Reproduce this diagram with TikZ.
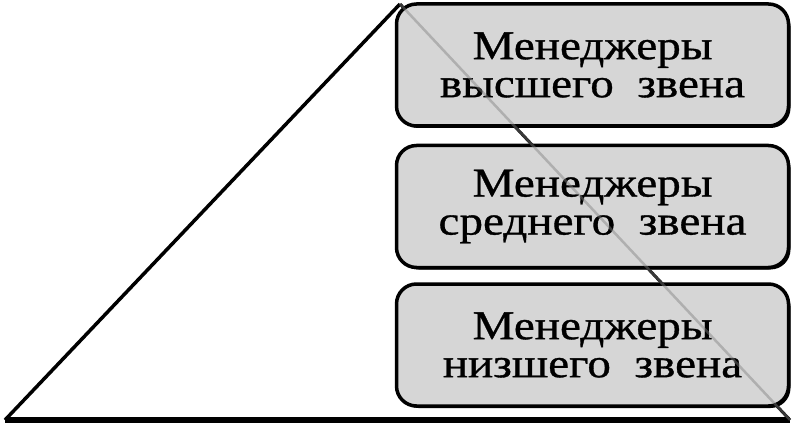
\documentclass[tikz,border=0pt]{standalone}
\usepackage{fontspec}
\setmainfont{Liberation Serif}[FakeStretch=1.15,FakeBold=0.8]
\begin{document}
\begin{tikzpicture}[x=1pt,y=-1pt,
  level/.style={draw=black,line width=3.5pt,rounded corners=20pt,fill=boxgray,
    minimum width=392pt,minimum height=122pt,align=center,inner sep=0pt,
    font=\fontsize{41}{38}\selectfont},
  shadowbox/.style={fill=black,rounded corners=20pt,minimum width=392pt,minimum height=122pt,inner sep=0pt}]
\definecolor{boxgray}{RGB}{214,214,214}
\useasboundingbox (0,0) rectangle (799,427);
\coordinate (A) at (5,420);
\coordinate (B) at (400,4);
\coordinate (C) at (790,420);
\draw[line width=3.5pt] (A) -- (B);
\draw[line width=3pt] (B) -- (C);
\draw[line width=6pt] (A) -- (C);
\node[shadowbox] at (594.5,67) {};
\node[shadowbox] at (594.5,208.5) {};
\node[shadowbox] at (594.5,347) {};
\node[level] (top) at (592.5,65) {Менеджеры\\высшего\ \ звена};
\node[level] (mid) at (592.5,206.5) {Менеджеры\\среднего\ \ звена};
\node[level] (low) at (592.5,345) {Менеджеры\\низшего\ \ звена};
\draw[line width=2.5pt,gray,opacity=0.45] (B) -- (C);
\end{tikzpicture}
\end{document}
